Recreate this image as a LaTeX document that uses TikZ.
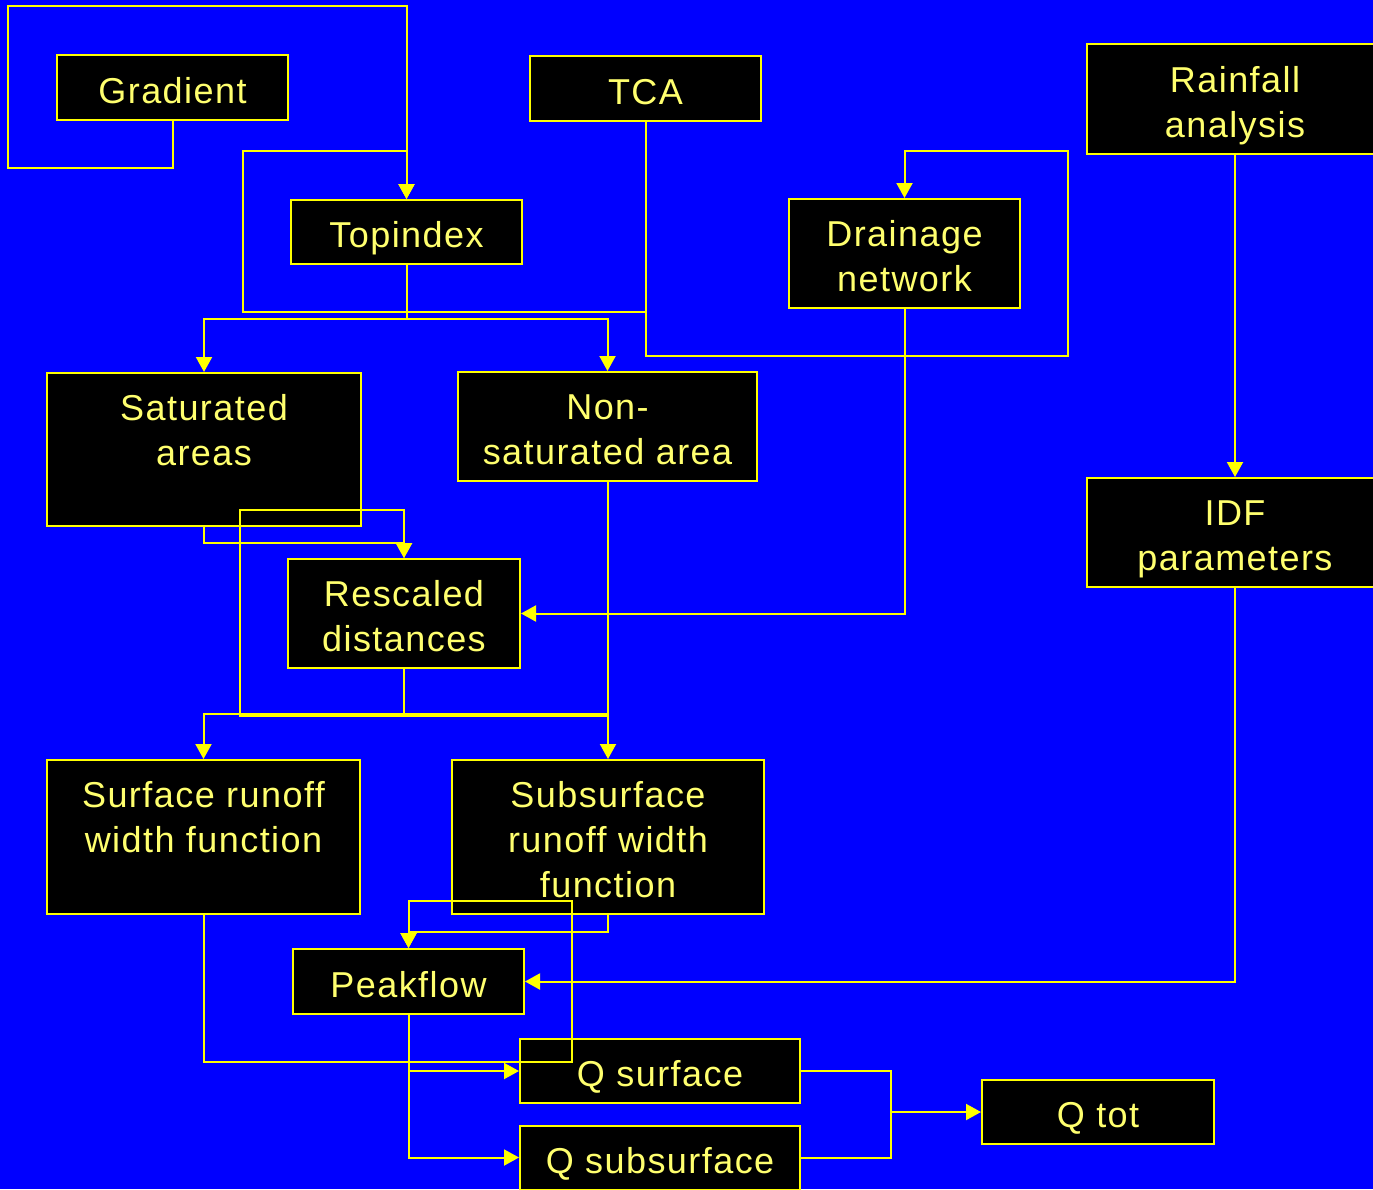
\documentclass[tikz,border=0pt]{standalone}
\usepackage{fontspec}
\setmainfont{Liberation Sans}[LetterSpace=4]
\usetikzlibrary{arrows.meta}
\definecolor{bgblue}{RGB}{0,0,255}
\definecolor{lineyel}{RGB}{255,255,0}
\definecolor{txtyel}{RGB}{255,255,110}
\newcommand\Tstr{\rule{0pt}{40pt}}
\tikzset{
  box/.style={draw=lineyel, line width=2pt, fill=black, text=txtyel, align=center,
    inner sep=0pt, font=\fontsize{36}{45}\selectfont,
    execute at begin node={\rule{0pt}{40pt}},
    execute at end node={\rule[-9pt]{0pt}{0pt}}},
  conn/.style={draw=lineyel, line width=2pt},
  arr/.style={conn, -{Triangle[width=16pt,length=15pt]}},
}
\begin{document}
\begin{tikzpicture}[x=1pt,y=-1pt]
\useasboundingbox (0,0) rectangle (1373,1189);
\fill[bgblue] (0,0) rectangle (1373,1189);

\node[box, minimum width=231pt, minimum height=65pt] (grad) at (172.5,87.5) {Gradient};
\node[box, minimum width=231pt, minimum height=65pt] (tca) at (645.5,88.5) {TCA};
\node[box, minimum width=296pt, minimum height=110pt] (rain) at (1235,99) {\Tstr Rainfall\\analysis};
\node[box, minimum width=231pt, minimum height=64pt] (topi) at (406.5,232) {Topindex};
\node[box, minimum width=231pt, minimum height=109pt] (drain) at (904.5,253.5) {\Tstr Drainage\\network};
\node[box, minimum width=314pt, minimum height=153pt] (sat) at (204,449.5) {\Tstr Saturated\\areas\\\mbox{}};
\node[box, minimum width=299pt, minimum height=109pt] (nonsat) at (607.5,426.5) {\Tstr Non-\\saturated area};
\node[box, minimum width=296pt, minimum height=109pt] (idf) at (1235,532.5) {\Tstr IDF\\parameters};
\node[box, minimum width=232pt, minimum height=109pt] (resc) at (404,613.5) {\Tstr Rescaled\\distances};
\node[box, minimum width=313pt, minimum height=154pt] (surf) at (203.5,837) {\Tstr Surface runoff\\width function\\\mbox{}};
\node[box, minimum width=312pt, minimum height=154pt] (subs) at (608,837) {\Tstr Subsurface\\runoff width\\function};
\node[box, minimum width=231pt, minimum height=65pt] (peak) at (408.5,981.5) {Peakflow};
\node[box, minimum width=280pt, minimum height=64pt] (qs) at (660,1071) {Q surface};
\node[box, minimum width=280pt, minimum height=64pt] (qss) at (660,1157.5) {Q subsurface};
\node[box, minimum width=232pt, minimum height=64pt] (qtot) at (1098,1112) {Q tot};

\coordinate (g1) at (8,168);
\coordinate (g2) at (8,6);
\coordinate (t1) at (243,312);
\coordinate (t2) at (243,151);
\coordinate (d1) at (1068,356);
\coordinate (d2) at (1068,151);
\coordinate (n1) at (240,716);
\coordinate (n2) at (240,510);
\coordinate (s1) at (572,1062);
\coordinate (s2) at (572,901);
\coordinate (m) at (891,1112);

% Gradient -> Topindex
\draw[arr] (grad.south) |- (g1) -- (g2) -| (topi.north);
% TCA -> Topindex
\draw[arr] (tca.south) |- (t1) -- (t2) -| (topi.north);
% Topindex -> Saturated, Non-saturated
\draw[arr] (topi.south) -- ++(0,54) -| (sat.north);
\draw[arr] (topi.south) ++(0,54) -| (nonsat.north);
% TCA -> Drainage
\draw[arr] (tca.south) |- (d1) -- (d2) -| (drain.north);
% Drainage -> Rescaled
\draw[arr] (drain.south) |- (resc.east);
% Saturated -> Rescaled
\draw[arr] (sat.south) -- ++(0,16) -| (resc.north);
% Non-saturated -> Rescaled
\draw[arr] (nonsat.south) |- (n1) -- (n2) -| (resc.north);
% Rescaled -> Surface, Subsurface
\draw[arr] (resc.south) -- ++(0,45) -| (surf.north);
\draw[arr] (resc.south) ++(0,45) -| (subs.north);
% Subsurface -> Peakflow
\draw[arr] (subs.south) -- ++(0,17) -| (peak.north);
% Surface -> Peakflow
\draw[arr] (surf.south) |- (s1) -- (s2) -| (peak.north);
% Rainfall -> IDF
\draw[arr] (rain.south) -- (idf.north);
% IDF -> Peakflow
\draw[arr] (idf.south) |- (peak.east);
% Peakflow -> Q surface, Q subsurface
\draw[arr] (peak.south) |- (qs.west);
\draw[arr] (peak.south) |- (qss.west);
% Q surface, Q subsurface -> Q tot
\draw[conn] (qs.east) -| (m);
\draw[conn] (qss.east) -| (m);
\draw[arr] (m) -- (qtot.west);
\end{tikzpicture}
\end{document}
